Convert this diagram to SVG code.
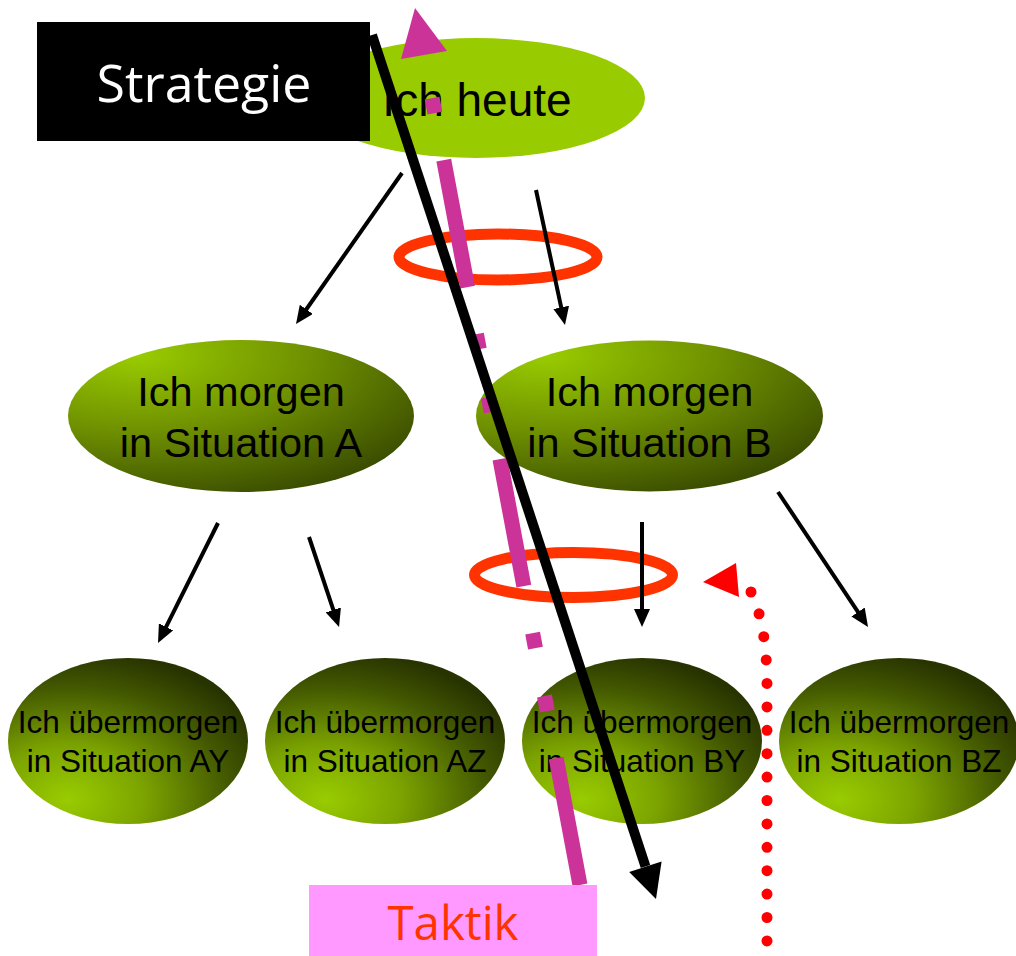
<svg xmlns="http://www.w3.org/2000/svg" width="1016" height="956" viewBox="0 0 1016 956">
  <style>
    .t1 { font-family: "Liberation Sans", Arial, sans-serif; fill: #000; text-anchor: middle; }
    .mid { font-size: 41.5px; }
    .bot { font-size: 31.5px; }
    .thin { stroke: #000; stroke-width: 4; fill: none; marker-end: url(#ah); }
    .ring { fill: none; stroke: #ff3300; stroke-width: 11; }
    .lbl { font-family: "Open Sans", "DejaVu Sans", sans-serif; text-anchor: middle; }
  </style>
  <defs>
    <radialGradient id="gMid" cx="0.2" cy="0.1" r="1" fx="0.2" fy="0.1">
      <stop offset="0" stop-color="#99cc00"/>
      <stop offset="0.5" stop-color="#6f9000"/>
      <stop offset="1" stop-color="#3a4c00"/>
    </radialGradient>
    <radialGradient id="gBot" cx="0.25" cy="0.85" r="0.9" fx="0.25" fy="0.85">
      <stop offset="0" stop-color="#99cc00"/>
      <stop offset="0.35" stop-color="#7ca400"/>
      <stop offset="0.75" stop-color="#435800"/>
      <stop offset="1" stop-color="#283400"/>
    </radialGradient>
    <marker id="ah" markerUnits="userSpaceOnUse" markerWidth="18" markerHeight="16" refX="10" refY="8" orient="auto">
      <path d="M0,0 L18,8 L0,16 z" fill="#000"/>
    </marker>
  </defs>

  <g id="node-heute">
    <ellipse cx="476" cy="98" rx="169" ry="60" fill="#99cc00"/>
    <text class="t1" x="477" y="116" font-size="46">Ich heute</text>
  </g>

  <g id="node-A">
    <ellipse cx="241" cy="416" rx="173" ry="76" fill="url(#gMid)"/>
    <text class="t1 mid" x="241" y="406">Ich morgen</text>
    <text class="t1 mid" x="241" y="457">in Situation A</text>
  </g>
  <g id="node-B">
    <ellipse cx="649.5" cy="416" rx="173.5" ry="75.5" fill="url(#gMid)"/>
    <text class="t1 mid" x="649.5" y="406">Ich morgen</text>
    <text class="t1 mid" x="649.5" y="457">in Situation B</text>
  </g>

  <g id="node-AY">
    <ellipse cx="128" cy="741" rx="120" ry="83" fill="url(#gBot)"/>
    <text class="t1 bot" x="128" y="733">Ich übermorgen</text>
    <text class="t1 bot" x="128" y="772">in Situation AY</text>
  </g>
  <g id="node-AZ">
    <ellipse cx="385" cy="741" rx="120" ry="83" fill="url(#gBot)"/>
    <text class="t1 bot" x="385" y="733">Ich übermorgen</text>
    <text class="t1 bot" x="385" y="772">in Situation AZ</text>
  </g>
  <g id="node-BY">
    <ellipse cx="642" cy="741" rx="120" ry="83" fill="url(#gBot)"/>
    <text class="t1 bot" x="642" y="733">Ich übermorgen</text>
    <text class="t1 bot" x="642" y="772">in Situation BY</text>
  </g>
  <g id="node-BZ">
    <ellipse cx="899" cy="741" rx="120" ry="83" fill="url(#gBot)"/>
    <text class="t1 bot" x="899" y="733">Ich übermorgen</text>
    <text class="t1 bot" x="899" y="772">in Situation BZ</text>
  </g>

  <g id="rings">
    <ellipse class="ring" cx="498" cy="257" rx="99" ry="23"/>
    <ellipse class="ring" cx="573.5" cy="575" rx="99" ry="22.5"/>
  </g>

  <g id="connectors">
    <line class="thin" x1="402" y1="173" x2="300.6" y2="317.5"/>
    <line class="thin" x1="536" y1="190" x2="563.3" y2="317.2"/>
    <line class="thin" x1="218" y1="523" x2="161.6" y2="635.8"/>
    <line class="thin" x1="309" y1="537" x2="336.5" y2="619.4"/>
    <line class="thin" x1="642" y1="522" x2="642" y2="619"/>
    <line class="thin" x1="778" y1="492" x2="863.6" y2="620.3"/>

    <g id="red-dotted">
      <path d="M751,592 C760,610 767,640 767,685 L767,956" fill="none" stroke="#ff0000" stroke-width="11" stroke-linecap="round" stroke-dasharray="0 23.4"/>
      <polygon points="703,582 736,563 739,597" fill="#ff0000"/>
    </g>

    <g id="pink-tactic">
      <path d="M580,885 L424,55" fill="none" stroke="#cc3399" stroke-width="15" stroke-dasharray="129.2 47.8 15.3 48.8 15.3 47.8"/>
      <polygon points="415,8 447,51 401,59" fill="#cc3399"/>
    </g>

    <g id="black-strategy">
      <line x1="372" y1="35" x2="645.5" y2="866.5" stroke="#000" stroke-width="10"/>
      <polygon points="656,899 661.6,861.4 629.2,872" fill="#000"/>
    </g>
  </g>

  <g id="label-strategie">
    <rect x="37" y="22" width="333" height="119" fill="#000"/>
    <text class="lbl" x="204" y="102" font-size="52" fill="#ffffff" textLength="215" lengthAdjust="spacingAndGlyphs">Strategie</text>
  </g>

  <g id="label-taktik">
    <rect x="309" y="885" width="288" height="71" fill="#ff99ff"/>
    <text class="lbl" x="453" y="940" font-size="47" fill="#ff3300" textLength="131" lengthAdjust="spacingAndGlyphs">Taktik</text>
  </g>
</svg>
